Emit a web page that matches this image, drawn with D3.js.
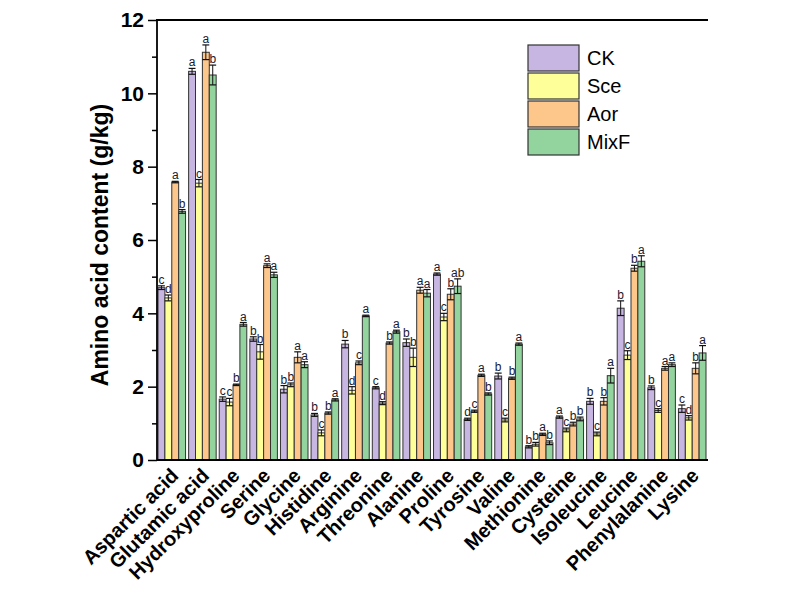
<!DOCTYPE html>
<html><head><meta charset="utf-8">
<script src="https://cdn.jsdelivr.net/npm/d3@7"></script>
<style>body{margin:0;background:#fff}</style>
</head><body>
<svg id="c" width="797" height="607"></svg>
<script>
const categories = ["Aspartic acid","Glutamic acid","Hydroxyproline","Serine","Glycine","Histidine","Arginine","Threonine","Alanine","Proline","Tyrosine","Valine","Methionine","Cysteine","Isoleucine","Leucine","Phenylalanine","Lysine"];
const seriesNames = ["CK","Sce","Aor","MixF"];
const ck   = [4.70,10.60,1.66,3.30,1.93,1.23,3.16,1.97,3.20,5.07,1.11,2.29,0.36,1.17,1.60,4.14,1.97,1.40];
const sce  = [4.42,7.55,1.58,2.95,2.05,0.74,1.90,1.55,2.80,3.90,1.33,1.09,0.43,0.82,0.71,2.86,1.35,1.15];
const aor  = [7.58,11.12,2.05,5.30,2.80,1.28,2.65,3.19,4.63,4.52,2.31,2.23,0.70,0.98,1.60,5.23,2.50,2.50];
const mixf = [6.78,10.50,3.70,5.05,2.60,1.64,3.93,3.50,4.55,4.74,1.80,3.16,0.47,1.12,2.30,5.42,2.60,2.92];
const ckErr   = [0.05,0.08,0.06,0.06,0.10,0.04,0.10,0.03,0.10,0.03,0.03,0.08,0.03,0.03,0.08,0.20,0.05,0.10];
const sceErr  = [0.08,0.10,0.10,0.20,0.05,0.08,0.10,0.04,0.25,0.10,0.03,0.05,0.05,0.05,0.05,0.12,0.05,0.06];
const aorErr  = [0.02,0.20,0.02,0.05,0.15,0.03,0.05,0.03,0.08,0.15,0.03,0.03,0.03,0.05,0.10,0.08,0.05,0.15];
const mixfErr = [0.05,0.27,0.05,0.07,0.08,0.03,0.02,0.04,0.10,0.20,0.03,0.03,0.05,0.05,0.20,0.15,0.05,0.20];
const ckLet   = ["c","a","c","b","b","b","b","c","b","a","d","b","b","a","b","b","b","c"];
const sceLet  = ["d","c","c","b","b","c","d","d","b","c","c","c","b","c","c","c","c","d"];
const aorLet  = ["a","a","b","a","a","b","c","b","a","b","a","b","a","b","b","b","a","b"];
const mixfLet = ["b","b","a","a","a","a","a","a","a","ab","b","a","b","b","a","a","a","a"];
const yTicks = [0,2,4,6,8,10,12];
const colors = ["#c8b6e2","#ffff99","#fdc68a","#92d39e"];

const values = [ck,sce,aor,mixf], errs = [ckErr,sceErr,aorErr,mixfErr], lets = [ckLet,sceLet,aorLet,mixfLet];
const svg = d3.select("#c");
const L = 157, R = 708, T = 20, B = 460;
const x = d3.scaleBand().domain(categories).range([158, 706]).paddingInner(0.1).paddingOuter(0);
const xs = d3.scaleBand().domain(seriesNames).range([0, x.bandwidth()]);
const y = d3.scaleLinear().domain([0,12]).range([B, T]);

const g = svg.append("g");
categories.forEach((c, i) => {
  seriesNames.forEach((s, j) => {
    const v = values[j][i], e = errs[j][i];
    const bx = x(c) + xs(s), bw = xs.bandwidth();
    g.append("rect").attr("x", bx).attr("y", y(v)).attr("width", bw).attr("height", B - y(v))
      .attr("fill", colors[j]).attr("stroke", "#333").attr("stroke-width", 1);
    const cx = bx + bw/2;
    g.append("line").attr("x1", cx).attr("x2", cx).attr("y1", y(v+e)).attr("y2", y(v-e)).attr("stroke","#111").attr("stroke-width",1);
    [v+e, v-e].forEach(t => g.append("line").attr("x1", bx).attr("x2", bx+bw).attr("y1", y(t)).attr("y2", y(t)).attr("stroke","#111").attr("stroke-width",1.2));
    g.append("text").attr("x", cx).attr("y", y(v+e) - 2).attr("text-anchor","middle")
      .attr("font-family","Liberation Sans, Arial, sans-serif").attr("font-size", 12).attr("fill","#1a1a2e")
      .text(lets[j][i]);
  });
});

// axes
const yAxis = d3.axisLeft(y).tickValues(yTicks).tickSize(9).tickPadding(4).tickFormat(d3.format("d"));
const ya = svg.append("g").attr("transform", `translate(${L},0)`).call(yAxis);
ya.select(".domain").remove();
ya.selectAll(".tick line").attr("stroke","#000").attr("stroke-width",1.5);
ya.selectAll(".tick text").attr("font-family","Liberation Sans, Arial, sans-serif").attr("font-weight","bold").attr("font-size",21).attr("fill","#000");
const yMinor = d3.axisLeft(y).tickValues([1,3,5,7,9,11]).tickSize(5).tickFormat("");
const ym = svg.append("g").attr("transform", `translate(${L},0)`).call(yMinor);
ym.select(".domain").remove();
ym.selectAll(".tick line").attr("stroke","#000").attr("stroke-width",1.5);

svg.append("line").attr("x1",L).attr("x2",L).attr("y1",T).attr("y2",B).attr("stroke","#000").attr("stroke-width",1.8);
svg.append("line").attr("x1",L-1).attr("x2",R).attr("y1",T).attr("y2",T).attr("stroke","#000").attr("stroke-width",1.8);
svg.append("line").attr("x1",L).attr("x2",R).attr("y1",B).attr("y2",B).attr("stroke","#000").attr("stroke-width",1.8);

// x labels
svg.append("g").selectAll("text").data(categories).join("text")
  .attr("transform", d => `translate(${x(d) + x.bandwidth()/2 + 3},${B + 12}) rotate(-45)`)
  .attr("text-anchor","end").attr("dy","0.35em")
  .attr("font-family","Liberation Sans, Arial, sans-serif").attr("font-weight","bold").attr("font-size",20).attr("fill","#000")
  .text(d => d);

// y title
svg.append("text").attr("transform", `translate(108,245) rotate(-90)`).attr("text-anchor","middle")
  .attr("font-family","Liberation Sans, Arial, sans-serif").attr("font-weight","bold").attr("font-size",23).attr("fill","#000")
  .text("Amino acid content (g/kg)");

// legend
const lg = svg.append("g").attr("transform","translate(528,45)");
seriesNames.forEach((s, j) => {
  lg.append("rect").attr("x",0).attr("y", j*28).attr("width",51).attr("height",26).attr("fill",colors[j]).attr("stroke","#333").attr("stroke-width",1.2);
  lg.append("text").attr("x",59).attr("y", j*28 + 13).attr("dy","0.36em")
    .attr("font-family","Liberation Sans, Arial, sans-serif").attr("font-size",20).attr("fill","#000").text(s);
});
</script>
</body></html>
